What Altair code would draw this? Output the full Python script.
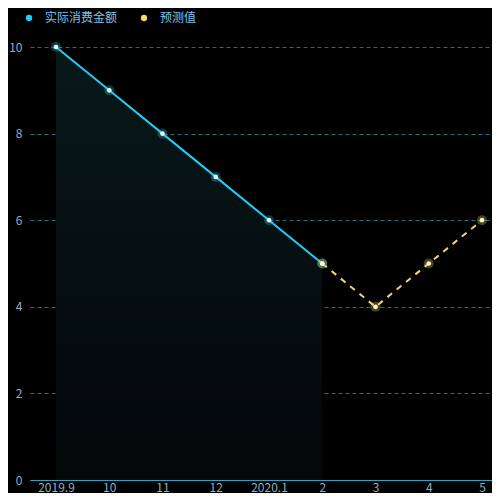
import altair as alt
import pandas as pd

months = ["2019.9", "10", "11", "12", "2020.1", "2", "3", "4", "5"]
actual_months = ["2019.9", "10", "11", "12", "2020.1", "2"]
actual_values = [10, 9, 8, 7, 6, 5]
forecast_months = ["2", "3", "4", "5"]
forecast_values = [5, 4, 5, 6]
series_names = ["实际消费金额", "预测值"]
series_colors = ["#22cdf5", "#f7d86a"]
y_ticks = [0, 2, 4, 6, 8, 10]

actual_df = pd.DataFrame({"month": actual_months, "value": actual_values, "series": series_names[0]})
forecast_df = pd.DataFrame({"month": forecast_months, "value": forecast_values, "series": series_names[1]})
for d in (actual_df, forecast_df):
    d["idx"] = [months.index(m) for m in d["month"]]
all_df = pd.concat([actual_df, forecast_df], ignore_index=True)

FONT = "Noto Sans CJK SC"
label_expr = "[" + ",".join("'%s'" % m for m in months) + "][datum.value]"

x_enc = alt.X(
    "idx:Q",
    scale=alt.Scale(domain=[-0.488, 8.188], nice=False, zero=False),
    axis=alt.Axis(
        title=None, values=list(range(len(months))), labelExpr=label_expr,
        labelAngle=0, ticks=False, domain=True,
        domainColor="#2aa6c6", domainWidth=1, grid=False,
        labelColor="#8fb0c4", labelFontSize=12, labelFont=FONT, labelPadding=2,
        labelFlush=False, labelOverlap=False,
    ),
)
y_enc = alt.Y(
    "value:Q",
    scale=alt.Scale(domain=[0, 10], nice=False),
    axis=alt.Axis(
        values=y_ticks, title=None, grid=True, gridDash=[4, 3],
        gridColor="#1c7082", gridWidth=1, domain=False, ticks=False,
        labelColor="#8fb0c4", labelFontSize=12, labelFont=FONT, labelPadding=8,
    ),
)
color_scale = alt.Scale(domain=series_names, range=series_colors)

base_a = alt.Chart(actual_df)
base_f = alt.Chart(forecast_df)

area = base_a.mark_area(
    color=alt.Gradient(
        gradient="linear", x1=0, x2=0, y1=0, y2=1,
        stops=[alt.GradientStop(color="#08181a", offset=0),
               alt.GradientStop(color="#030708", offset=1)],
    ),
    opacity=1,
).encode(x=x_enc, y=y_enc)

line_a = base_a.mark_line(strokeWidth=2).encode(
    x=x_enc, y=y_enc,
    color=alt.Color("series:N", scale=color_scale, legend=alt.Legend(
        title=None, orient="none", direction="horizontal", legendX=-7, legendY=-35,
        symbolType="circle", symbolSize=40,
        labelColor="#7cc4ec", labelFontSize=12, labelFont=FONT,
        columnPadding=20, symbolStrokeWidth=0, labelOffset=10,
    )),
)
line_f = base_f.mark_line(strokeWidth=2, strokeDash=[6, 6]).encode(
    x=x_enc, y=y_enc, color=alt.Color("series:N", scale=color_scale, legend=None)
)

glow = alt.Chart(all_df).mark_circle(size=100, opacity=0.3).encode(
    x=x_enc, y=y_enc, color=alt.Color("series:N", scale=color_scale, legend=None)
)
points_a = base_a.mark_circle(size=22, opacity=1, color="#effdff").encode(x=x_enc, y=y_enc)
points_f = base_f.mark_circle(size=22, opacity=1, color="#fff7d0").encode(x=x_enc, y=y_enc)

chart = alt.layer(area, line_a, line_f, glow, points_a, points_f).properties(
    width=462, height=433,
    background="#000000",
    padding={"left": 0, "top": 4, "right": 0, "bottom": 0},
).configure_view(stroke=None).configure_legend(
    symbolOpacity=1
)

chart.save("out.html", embed_options={"renderer": "svg", "actions": False})
